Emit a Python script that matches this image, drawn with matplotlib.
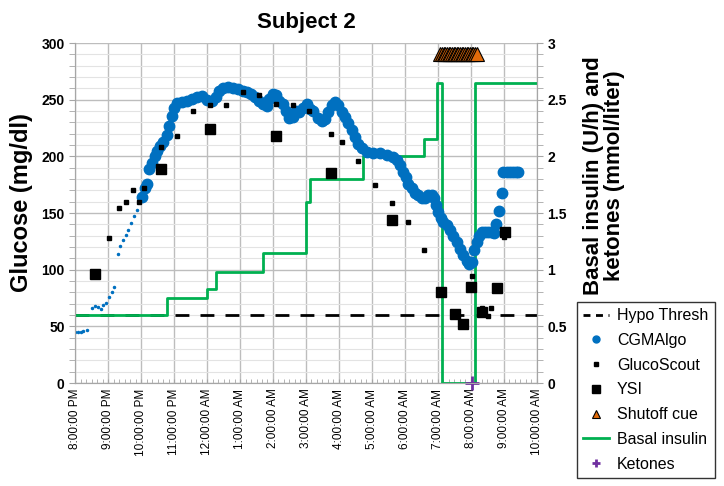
import matplotlib
matplotlib.use("Agg")
from matplotlib import pyplot as plt
import matplotlib.ticker as ticker
from matplotlib.lines import Line2D

plt.rcParams['font.family'] = ['Liberation Sans', 'DejaVu Sans']

# hours after 8:00 PM
x_labels = ["8:00:00 PM", "9:00:00 PM", "10:00:00 PM", "11:00:00 PM", "12:00:00 AM",
            "1:00:00 AM", "2:00:00 AM", "3:00:00 AM", "4:00:00 AM", "5:00:00 AM",
            "6:00:00 AM", "7:00:00 AM", "8:00:00 AM", "9:00:00 AM", "10:00:00 AM"]

hypo_thresh = 60

# CGM values before the sensor warm-up (small dots)
cgm_early_h = [0.0, 0.1, 0.17, 0.25, 0.35, 0.52, 0.61, 0.69, 0.78, 0.86, 0.94, 1.03,
               1.11, 1.19, 1.29, 1.37, 1.45, 1.54, 1.62, 1.7, 1.79, 1.87]
cgm_early_g = [45, 45, 45, 46, 47, 66, 68, 67, 65, 69, 71, 76, 80, 85, 114, 121, 126,
               131, 135, 141, 147, 153]

cgm_h = [2.04, 2.12, 2.19, 2.25, 2.33, 2.41, 2.49, 2.58, 2.68, 2.78, 2.86, 2.93, 3.0,
         3.1, 3.23, 3.38, 3.54, 3.69, 3.84, 3.99, 4.14, 4.27, 4.37, 4.49, 4.65, 4.8,
         4.95, 5.08, 5.2, 5.32, 5.45, 5.58, 5.71, 5.81, 5.89, 5.99, 6.09, 6.19, 6.29,
         6.39, 6.49, 6.6, 6.7, 6.8, 6.92, 7.02, 7.12, 7.22, 7.37, 7.47, 7.58, 7.68,
         7.78, 7.88, 7.98, 8.08, 8.18, 8.28, 8.38, 8.48, 8.58, 8.69, 8.84, 9.04, 9.24,
         9.45, 9.65, 9.77, 9.85, 9.95, 10.03, 10.1, 10.2, 10.3, 10.4, 10.51, 10.61,
         10.71, 10.81, 10.88, 10.94, 11.01, 11.08, 11.16, 11.26, 11.36, 11.46, 11.57,
         11.67, 11.77, 11.87, 11.95, 12.02, 12.09, 12.17, 12.24, 12.32, 12.42, 12.52,
         12.62, 12.7, 12.76, 12.86, 12.93, 12.98, 13.08, 13.18, 13.28, 13.36, 13.43]
cgm_g = [164, 172, 176, 189, 194, 200, 205, 209, 213, 219, 227, 236, 243,
         247, 248, 249, 251, 252, 253, 250, 249, 252, 258, 260, 261, 260,
         259, 258, 257, 255, 252, 249, 246, 244, 251, 255, 254, 249, 246,
         240, 234, 235, 240, 239, 243, 246, 242, 240, 234, 231, 233, 239,
         245, 248, 245, 239, 235, 229, 223, 217, 211, 207, 204, 203, 203,
         201, 199, 197, 192, 186, 182, 176, 172, 168, 166, 163, 163,
         166, 166, 163, 157, 151, 146, 142, 139, 135, 130, 124,
         118, 113, 108, 105, 107, 117, 124, 130, 133, 133, 133,
         133, 132, 140, 152, 168, 186, 186, 186, 186, 186, 186]

gluco_h = [1.04, 1.33, 1.55, 1.77, 1.93, 2.1, 2.61, 3.09, 3.58, 4.09, 4.58, 5.08, 5.58,
           6.09, 6.6, 7.1, 7.76, 8.08, 8.58, 9.09, 9.6, 10.08, 10.59, 11.11, 12.02,
           12.32, 12.52, 12.6, 12.8, 13.0]
gluco_g = [128, 154, 160, 170, 160, 172, 208, 218, 240, 245, 245, 257, 254,
           246, 245, 240, 220, 213, 196, 175, 159, 142, 117, 82, 94,
           66, 59, 66, 83, 129]

ysi_h = [0.61, 2.61, 4.09, 6.09, 7.76, 9.6, 11.09, 11.52, 11.75, 12.0, 12.32, 12.78, 13.03]
ysi_g = [96, 189, 224, 218, 185, 144, 80, 61, 52, 85, 63, 84, 133]

# basal insulin steps (U/h), value holds from each hour until the next
basal_h = [0.0, 2.79, 3.99, 4.27, 5.69, 7.0, 7.12, 8.74, 10.58, 10.98, 11.13, 12.12, 14.0]
basal_u = [0.6, 0.75, 0.83, 0.98, 1.15, 1.6, 1.8, 2.0, 2.15, 2.65, 0.0, 2.65, 2.65]

shutoff_h = [11.07, 11.12, 11.17, 11.22, 11.27, 11.32, 11.37, 11.42, 11.47, 11.52,
             11.57, 11.62, 11.67, 11.72, 11.77, 11.82, 11.87, 11.92, 11.97, 12.02,
             12.07, 12.12, 12.18]
shutoff_v = [2.9] * len(shutoff_h)

ketone_h = [12.02]
ketone_v = [0.0]

# right axis (U/h, mmol/l) is the left axis divided by 100
scale = 100.0

fig = plt.figure(figsize=(7.24, 4.86), dpi=100)
ax_1 = fig.add_axes([0.1036, 0.2119, 0.6381, 0.6996])
ax_2 = ax_1.twinx()

ax_1.set_xlim(0, 14)
ax_1.set_ylim(0, 300)
ax_2.set_ylim(0, 3)

ax_1.xaxis.set_minor_locator(ticker.MultipleLocator(1 / 6))
ax_1.set_xticks(range(15))
ax_1.set_xticklabels(x_labels, rotation=90, fontsize=8.5)
ax_1.yaxis.set_major_locator(ticker.MultipleLocator(50))
ax_1.yaxis.set_minor_locator(ticker.MultipleLocator(10))
ax_2.yaxis.set_major_locator(ticker.MultipleLocator(0.5))
ax_2.yaxis.set_minor_locator(ticker.MultipleLocator(0.1))
ax_2.yaxis.set_major_formatter(ticker.FuncFormatter(lambda v, p: "%g" % v))

ax_1.grid(which='major', color='#bdbdbd', linewidth=1)
ax_1.grid(which='minor', axis='y', color='#e3e3e3', linewidth=0.8)
ax_1.set_axisbelow(True)

for ax in (ax_1, ax_2):
    for s in ax.spines.values():
        s.set_color('#a6a6a6')
    ax.spines['top'].set_visible(False)
ax_1.tick_params(axis='x', which='both', direction='in', color='#a6a6a6', length=3, pad=4)
ax_1.tick_params(axis='y', which='both', direction='out', color='#a6a6a6', length=4,
                 labelsize=10)
ax_2.tick_params(axis='y', which='both', direction='out', color='#a6a6a6', length=4,
                 labelsize=10)
for lab in ax_1.get_yticklabels() + ax_2.get_yticklabels():
    lab.set_fontweight('bold')

ax_1.axhline(hypo_thresh, color='k', linestyle=(0, (5, 4)), linewidth=2, zorder=2)
ax_1.step(basal_h, [u * scale for u in basal_u], where='post', color='#00B050',
          linewidth=2, zorder=3)
ax_1.plot(cgm_early_h, cgm_early_g, linestyle='none', marker='o', markersize=1.5,
          color='#0070C0', zorder=4)
ax_1.plot(cgm_h, cgm_g, linestyle='none', marker='o', markersize=7.5, color='#0070C0',
          zorder=4)
ax_1.plot(gluco_h, gluco_g, linestyle='none', marker='s', markersize=3.5, color='k',
          zorder=5)
ax_1.plot(ysi_h, ysi_g, linestyle='none', marker='s', markersize=7, color='k', zorder=5)
ax_1.plot(shutoff_h, [v * scale for v in shutoff_v], linestyle='none', marker='^',
          markersize=10, markerfacecolor='#E26B0A', markeredgecolor='k',
          markeredgewidth=0.8, zorder=6)
ax_1.plot(ketone_h, [v * scale for v in ketone_v], linestyle='none', marker='+',
          markersize=10, markeredgewidth=2, color='#7030A0', zorder=6, clip_on=False)

ax_1.set_title("Subject 2", fontsize=16, fontweight='bold', pad=11)
ax_1.set_ylabel("Glucose (mg/dl)", fontsize=17, fontweight='bold')
ax_1.yaxis.set_label_coords(-0.091, 0.53)
ax_2.set_ylabel("Basal insulin (U/h) and\nketones (mmol/liter)", fontsize=16,
                fontweight='bold', linespacing=1.0)
ax_2.yaxis.set_label_coords(1.1, 0.61)

order = ["Hypo Thresh", "CGMAlgo", "GlucoScout", "YSI", "Shutoff cue", "Basal insulin", "Ketones"]
leg_handles = [
    Line2D([], [], color='k', linestyle=(0, (2.5, 2)), linewidth=2),
    Line2D([], [], linestyle='none', marker='o', markersize=5, color='#0070C0'),
    Line2D([], [], linestyle='none', marker='s', markersize=3, color='k'),
    Line2D([], [], linestyle='none', marker='s', markersize=6, color='k'),
    Line2D([], [], linestyle='none', marker='^', markersize=6, markerfacecolor='#E26B0A',
           markeredgecolor='k', markeredgewidth=0.8),
    Line2D([], [], color='#00B050', linewidth=2),
    Line2D([], [], linestyle='none', marker='+', markersize=6, markeredgewidth=2,
           color='#7030A0'),
]
leg = fig.legend(leg_handles, order, loc='upper left', bbox_to_anchor=(0.797, 0.379),
                 fontsize=11.5, frameon=True, fancybox=False, edgecolor='k',
                 handlelength=1.6, labelspacing=0.61, borderpad=0.4, handletextpad=0.5,
                 borderaxespad=0)
leg.get_frame().set_linewidth(1)

fig.savefig("out.png", dpi=100)
